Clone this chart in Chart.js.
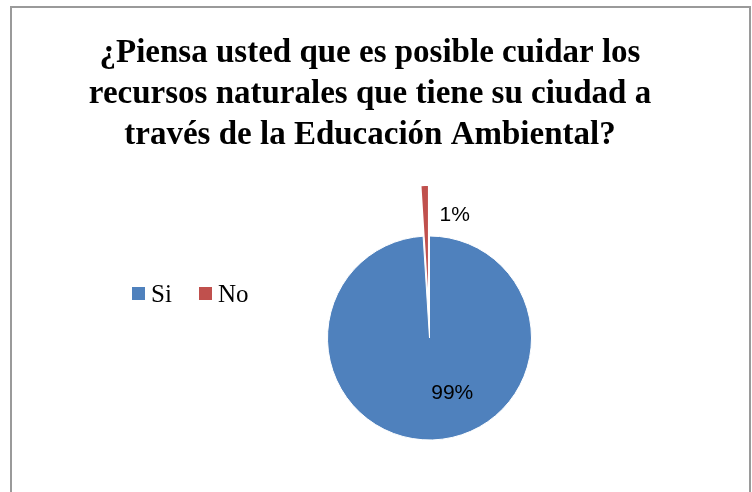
<!DOCTYPE html>
<html>
<head>
<meta charset="utf-8">
<script src="https://cdn.jsdelivr.net/npm/chart.js@4.4.1/dist/chart.umd.min.js"></script>
<style>
  html, body { margin: 0; padding: 0; background: #fff; }
  #wrap { position: relative; width: 752px; height: 492px; overflow: hidden; }
  #frame { position: absolute; left: 10px; top: 6px; width: 737px; height: 520px; border: 2px solid #9a9a9a; }
  canvas { position: absolute; left: 0; top: 0; }
</style>
</head>
<body>
<div id="wrap">
  <div id="frame"></div>
  <canvas id="chart" width="752" height="492"></canvas>
</div>
<script>
// Survey answers
const titleLines = [
  '¿Piensa usted que es posible cuidar los',
  'recursos naturales que tiene su ciudad a',
  'través de la Educación Ambiental?'
];
const categories = ['Si', 'No'];
const values = [99, 1];
const colors = ['#4F81BD', '#C0504D'];

// Pie whose slices can be pulled out by a fraction of the radius (Excel-style explode)
class ExplodedPieController extends Chart.PieController {
  draw() {
    const ctx = this.chart.ctx;
    const area = this.chart.chartArea;
    const explode = this.getDataset().explode || [];
    this._cachedMeta.data.forEach((arc, i) => {
      const mid = (arc.startAngle + arc.endAngle) / 2;
      const d = (explode[i] || 0) * arc.outerRadius;
      ctx.save();
      ctx.translate(Math.cos(mid) * d, Math.sin(mid) * d);
      arc.draw(ctx, area);
      ctx.restore();
    });
  }
}
ExplodedPieController.id = 'explodedPie';
ExplodedPieController.defaults = Chart.PieController.defaults;
Chart.register(ExplodedPieController);

// Left layout box: holds the horizontal legend and pushes the pie to the right
const sideLegend = {
  id: 'sideLegend',
  beforeInit(chart) {
    const box = {
      position: 'left',
      weight: 0,
      fullSize: false,
      options: {},
      isHorizontal() { return false; },
      update(maxWidth, maxHeight) {
        this.width = 119;
        this.height = maxHeight;
      },
      draw() {
        const ctx = chart.ctx;
        const ds = chart.data.datasets[0];
        ctx.save();
        ctx.font = '25px "Liberation Serif"';
        ctx.textBaseline = 'alphabetic';
        chart.data.labels.forEach((label, i) => {
          const x = 132 + i * 67;
          ctx.fillStyle = ds.backgroundColor[i];
          ctx.fillRect(x, 287, 13, 13);
          ctx.fillStyle = '#000';
          ctx.fillText(label, x + 19, 302);
        });
        ctx.restore();
      }
    };
    Chart.layouts.addBox(chart, box);
  }
};

// Percentage labels on the slices
const sliceLabels = {
  id: 'sliceLabels',
  afterDatasetsDraw(chart) {
    const ctx = chart.ctx;
    const meta = chart.getDatasetMeta(0);
    const total = values.reduce((a, b) => a + b, 0);
    const place = [
      { r: 55, dx: 21 },   // inside the big slice
      { r: 123, dx: 29 }   // beside the exploded sliver
    ];
    ctx.save();
    ctx.font = '21px "Liberation Sans"';
    ctx.fillStyle = '#000';
    ctx.textAlign = 'center';
    ctx.textBaseline = 'middle';
    meta.data.forEach((arc, i) => {
      const p = arc.getProps(['x', 'y', 'startAngle', 'endAngle']);
      const mid = (p.startAngle + p.endAngle) / 2;
      const x = p.x + Math.cos(mid) * place[i].r + place[i].dx;
      const y = p.y + Math.sin(mid) * place[i].r;
      ctx.fillText(Math.round(values[i] / total * 100) + '%', x, y);
    });
    ctx.restore();
  }
};

new Chart(document.getElementById('chart'), {
  type: 'explodedPie',
  data: {
    labels: categories,
    datasets: [{
      data: values,
      backgroundColor: colors,
      borderColor: '#fff',
      borderWidth: [1, 0],
      explode: [0, 0.49],
      radius: 102
    }]
  },
  options: {
    responsive: false,
    devicePixelRatio: 1,
    animation: false,
    layout: { padding: { top: 22, right: 12, bottom: 0, left: 0 } },
    plugins: {
      title: {
        display: true,
        text: titleLines,
        color: '#000',
        font: { family: '"Liberation Serif"', size: 33, weight: 'bold', lineHeight: 41 / 33 },
        padding: { top: 11, bottom: 28 }
      },
      legend: { display: false },
      tooltip: { enabled: false }
    }
  },
  plugins: [sideLegend, sliceLabels]
});
</script>
</body>
</html>
